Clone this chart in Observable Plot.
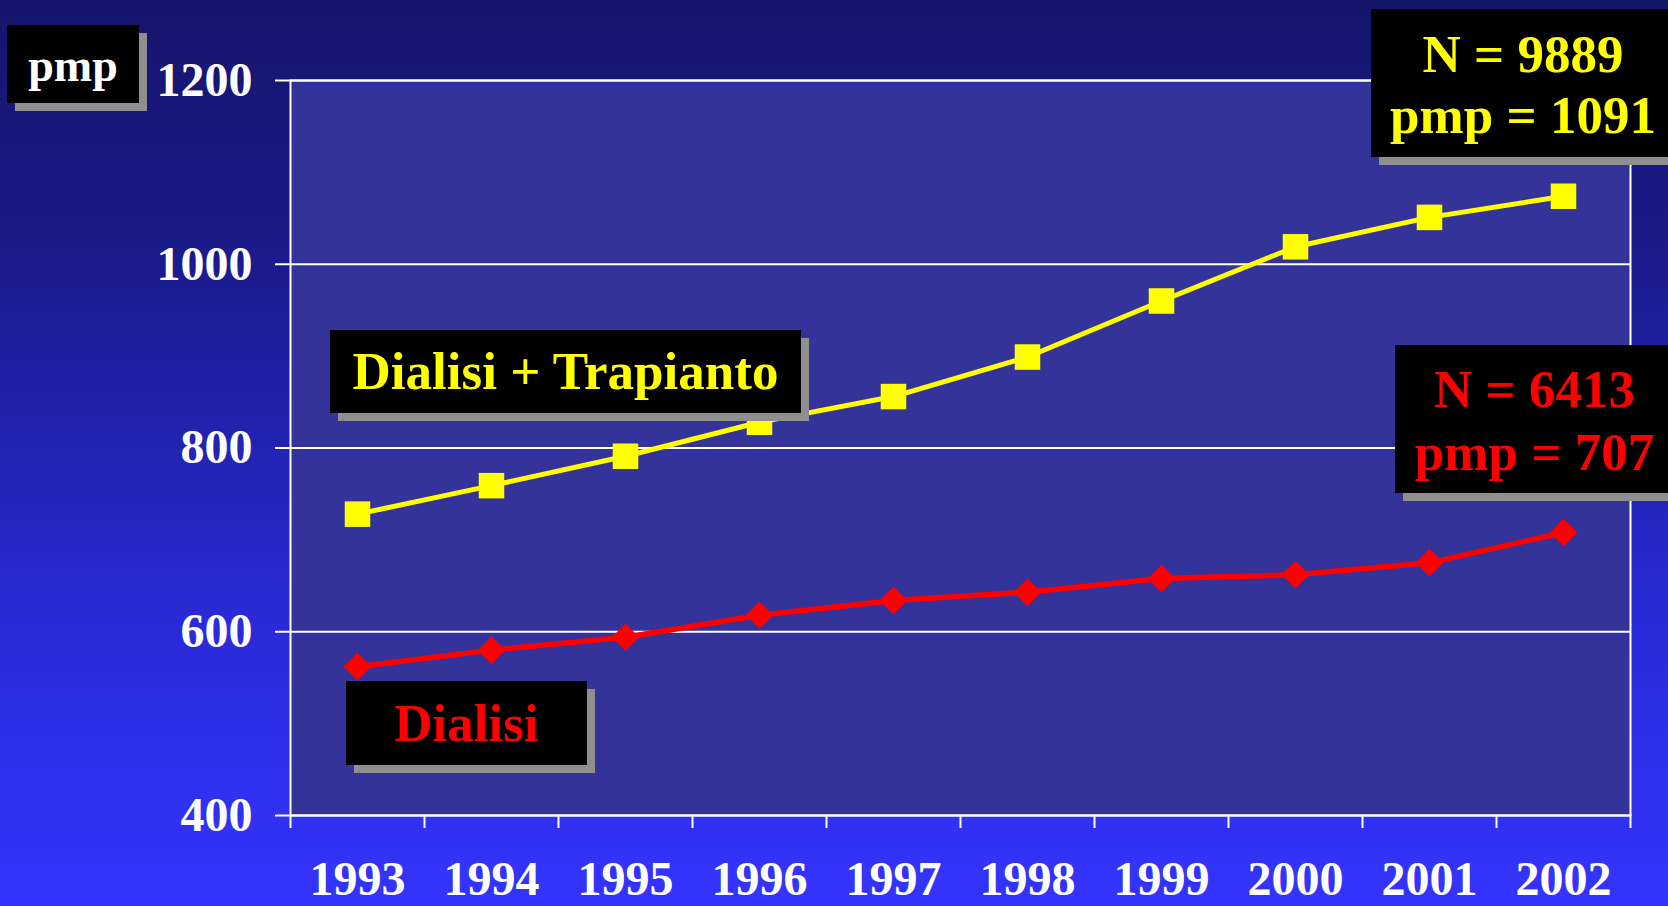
<!DOCTYPE html>
<html>
<head>
<meta charset="utf-8">
<script src="https://cdn.jsdelivr.net/npm/d3@7"></script>
<script src="https://cdn.jsdelivr.net/npm/@observablehq/plot@0.6"></script>
<style>
  html, body { margin: 0; padding: 0; }
  body {
    width: 1668px; height: 906px; overflow: hidden; position: relative;
    background: linear-gradient(to bottom, #15156b 0%, #1b1b8e 30%, #2a2ad6 68%, #3434ff 100%);
    font-family: "Liberation Serif", "Times New Roman", serif; font-weight: bold;
  }
  #chart { position: absolute; left: 0; top: 0; }
  .box {
    position: absolute; background: #000; box-shadow: 8px 8px 0 #8f8f8f;
    text-align: center; box-sizing: border-box; white-space: nowrap;
    font-family: "Liberation Serif", "Times New Roman", serif; font-weight: bold;
  }
</style>
</head>
<body>
<div id="chart"></div>
<div class="box" style="left:7px;top:25px;width:132px;height:78px;color:#fff;font-size:46px;line-height:78px;padding-top:2px;">pmp</div>
<div class="box" style="left:1371px;top:9px;width:297px;height:148px;color:#ffff00;font-size:53px;line-height:61px;padding-top:14.6px;padding-left:7px;">N = 9889<br>pmp = 1091</div>
<div class="box" style="left:1395px;top:345px;width:273px;height:148px;color:#ff0000;font-size:53px;line-height:63px;padding-top:12.6px;padding-left:6px;">N = 6413<br>pmp = 707</div>
<div class="box" style="left:330px;top:330px;width:471px;height:83px;color:#ffff00;font-size:53px;line-height:83px;">Dialisi + Trapianto</div>
<div class="box" style="left:346px;top:681px;width:241px;height:84px;color:#ff0000;font-size:53px;line-height:84px;">Dialisi</div>
<script>
const years = [1993, 1994, 1995, 1996, 1997, 1998, 1999, 2000, 2001, 2002];
const dialisiTrapianto = [728, 759, 791, 828, 856, 899, 960, 1019, 1051, 1074];
const dialisi = [562, 580, 594, 618, 634, 643, 658, 662, 675, 708];
const yTicks = [400, 600, 800, 1000, 1200];

const xDomain = [years[0] - 0.5, years[years.length - 1] + 0.5];
const yearBounds = years.map(y => y - 0.5).concat([years[years.length - 1] + 0.5]);
const dtData = years.map((year, i) => ({year, value: dialisiTrapianto[i]}));
const dData = years.map((year, i) => ({year, value: dialisi[i]}));

const chart = Plot.plot({
  width: 1668,
  height: 906,
  marginLeft: 290,
  marginRight: 38,
  marginTop: 80,
  marginBottom: 91,
  style: {background: "transparent", color: "white", fontFamily: "'Liberation Serif', 'Times New Roman', serif", fontWeight: "bold"},
  x: {type: "linear", domain: xDomain, label: null},
  y: {domain: [400, 1200], label: null},
  marks: [
    Plot.frame({fill: "#333399"}),
    Plot.gridY(yTicks, {stroke: "white", strokeOpacity: 1, strokeWidth: 2}),
    Plot.frame({stroke: "white", strokeWidth: 2}),
    Plot.axisY(yTicks, {tickSize: 15, tickPadding: 23, fontSize: 48, strokeWidth: 2, label: null, tickFormat: d => String(d)}),
    Plot.axisX(yearBounds, {tickSize: 13, strokeWidth: 2, tickFormat: () => "", label: null}),
    Plot.axisX(years, {tickSize: 0, tickPadding: 45, fontSize: 48, tickFormat: d => String(d), label: null}),
    Plot.line(dtData, {x: "year", y: "value", stroke: "#ffff00", strokeWidth: 5}),
    Plot.dot(dtData, {x: "year", y: "value", symbol: "square", r: 14.4, fill: "#ffff00", stroke: "none"}),
    Plot.line(dData, {x: "year", y: "value", stroke: "#ff0000", strokeWidth: 5.5}),
    Plot.dot(dData, {x: "year", y: "value", symbol: "diamond2", r: 12.4, fill: "#ff0000", stroke: "none"})
  ]
});
document.getElementById("chart").appendChild(chart);
</script>
</body>
</html>
